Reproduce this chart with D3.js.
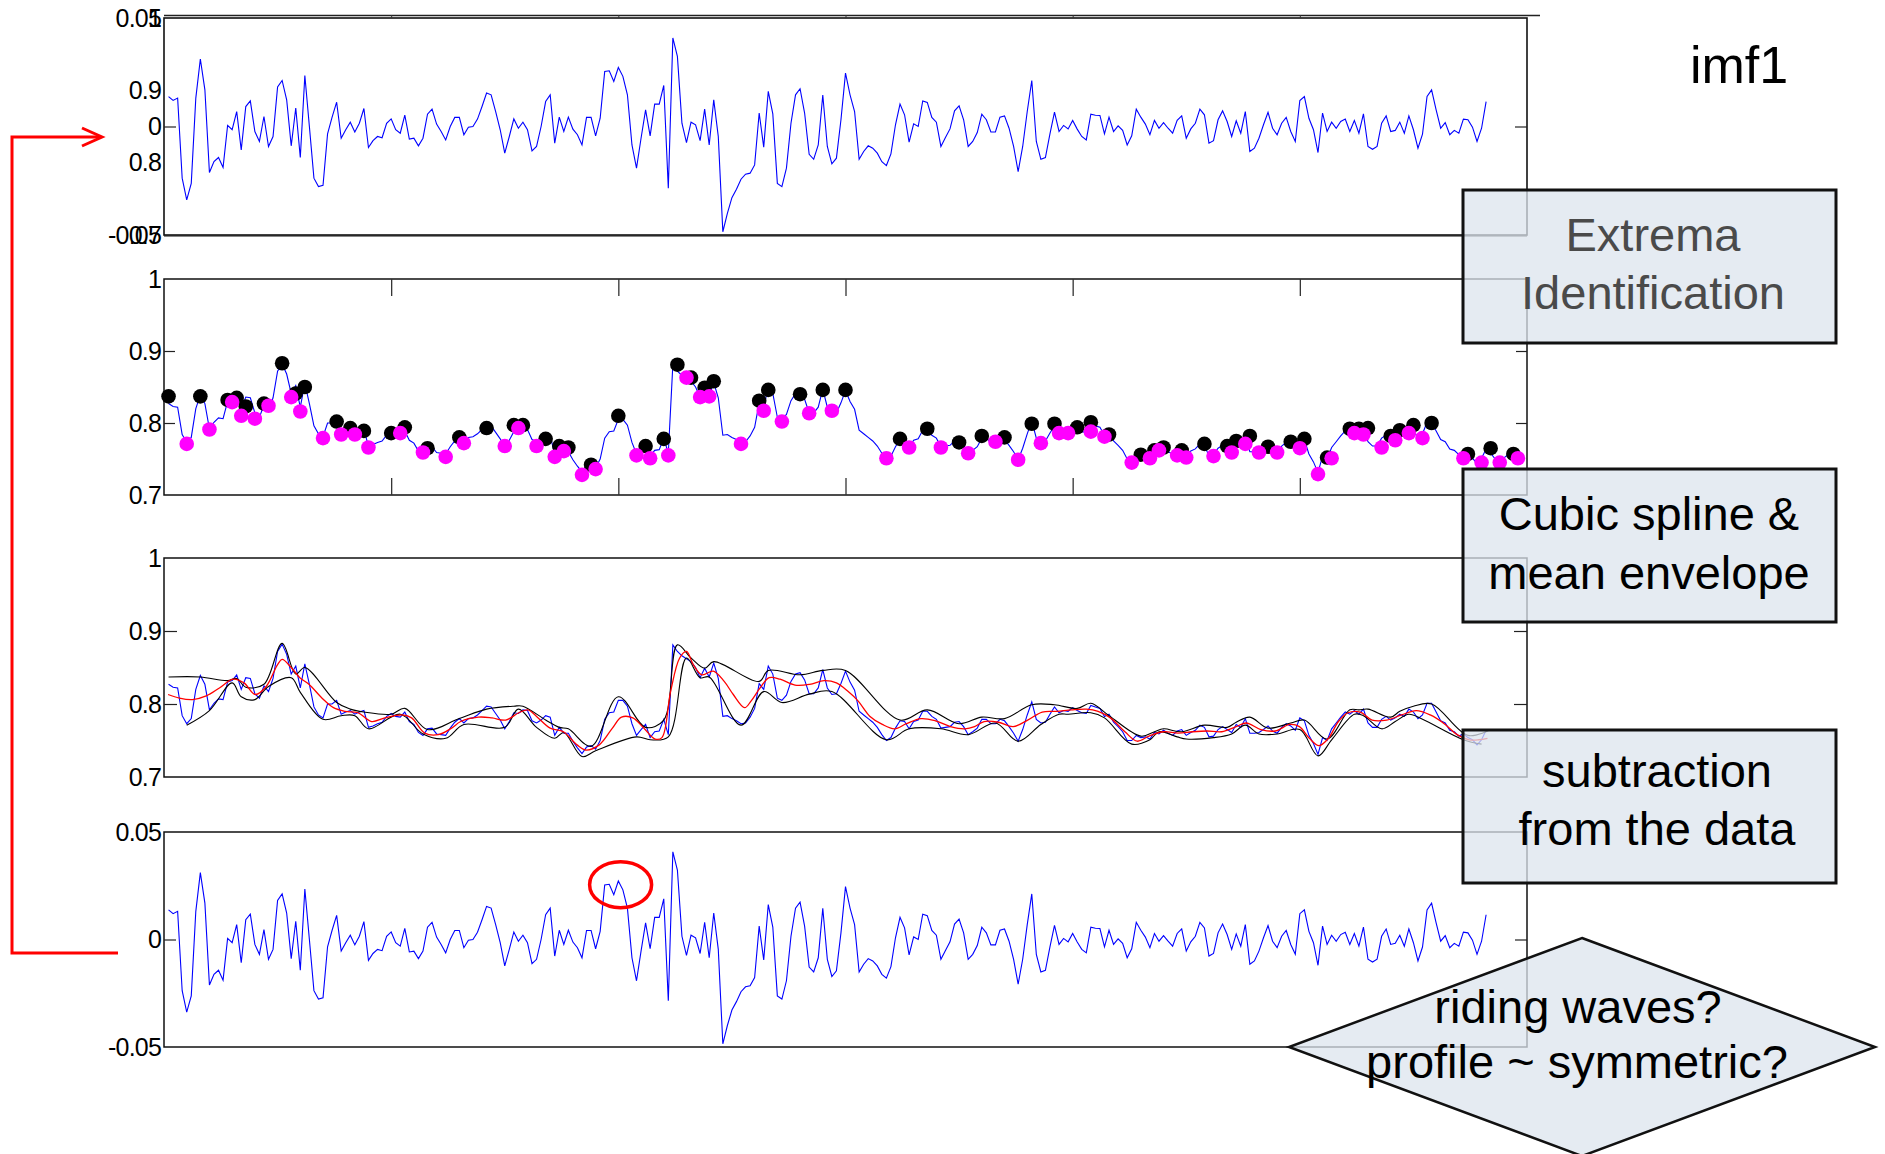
<!DOCTYPE html>
<html>
<head>
<meta charset="utf-8">
<script src="https://cdn.jsdelivr.net/npm/d3@7"></script>
<style>
  html, body { margin: 0; padding: 0; background: #fff; }
  svg { display: block; font-family: "Liberation Sans", Arial, Helvetica, sans-serif; }
</style>
</head>
<body>
<svg id="chart" width="1885" height="1154"></svg>
<script>
// ---- data -------------------------------------------------------------
const xTickValues = [0, 50, 100, 150, 200, 250, 300];
const levelTicks = [0.7, 0.8, 0.9, 1];
const imfTicks = [-0.05, 0, 0.05];

// first intrinsic mode function candidate, samples 1..291
const imf = [
  0.0138, 0.0120, 0.0131, -0.0238, -0.0338, -0.0262, 0.0131, 0.0311, 0.0169, -0.0212,
  -0.0162, -0.0143, -0.0189, 0.0005, -0.0015, 0.0069, -0.0108, 0.0092, 0.0118, -0.0023,
  -0.0069, 0.0046, -0.0092, -0.0046, 0.0182, 0.0212, 0.0123, -0.0089, 0.0085, -0.0143,
  0.0235, 0.0000, -0.0238, -0.0277, -0.0271, -0.0034, 0.0043, 0.0112, -0.0054, -0.0015,
  0.0020, -0.0025, 0.0015, 0.0083, -0.0097, -0.0065, -0.0046, -0.0052, 0.0015, 0.0035,
  -0.0015, -0.0031, 0.0052, -0.0058, -0.0054, -0.0089, -0.0054, 0.0057, 0.0080, 0.0011,
  -0.0023, -0.0062, 0.0000, 0.0042, 0.0042, -0.0038, -0.0003, 0.0000, 0.0034, 0.0092,
  0.0154, 0.0146, 0.0069, -0.0015, -0.0123, -0.0046, 0.0035, -0.0008, 0.0020, -0.0015,
  -0.0112, -0.0092, 0.0000, 0.0115, 0.0146, -0.0077, 0.0043, -0.0023, 0.0043, -0.0012,
  -0.0038, -0.0085, 0.0042, 0.0042, -0.0043, 0.0038, 0.0254, 0.0257, 0.0208, 0.0272,
  0.0231, 0.0146, -0.0085, -0.0192, -0.0054, 0.0077, -0.0043, 0.0103, 0.0103, 0.0189,
  -0.0285, 0.0408, 0.0323, 0.0015, -0.0074, 0.0020, 0.0008, -0.0065, 0.0080, -0.0085,
  0.0123, -0.0046, -0.0485, -0.0400, -0.0328, -0.0289, -0.0243, -0.0220, -0.0215, -0.0177,
  0.0062, -0.0095, 0.0162, 0.0058, -0.0262, -0.0277, -0.0192, 0.0015, 0.0146, 0.0174,
  0.0062, -0.0128, -0.0151, -0.0085, 0.0145, -0.0092, -0.0172, -0.0146, 0.0031, 0.0246,
  0.0146, 0.0069, -0.0151, -0.0115, -0.0089, -0.0100, -0.0123, -0.0162, -0.0180, -0.0126,
  0.0008, 0.0103, 0.0054, -0.0072, 0.0012, 0.0000, 0.0118, 0.0111, 0.0042, 0.0020,
  -0.0092, -0.0051, -0.0011, 0.0072, 0.0095, 0.0031, -0.0092, -0.0069, -0.0028, 0.0057,
  0.0031, -0.0025, -0.0025, 0.0043, 0.0049, -0.0008, -0.0092, -0.0208, -0.0092, 0.0069,
  0.0212, -0.0069, -0.0151, -0.0143, -0.0034, 0.0066, -0.0023, 0.0005, -0.0011, 0.0028,
  -0.0012, -0.0046, -0.0062, 0.0057, 0.0052, 0.0051, -0.0034, 0.0043, -0.0023, 0.0003,
  -0.0018, -0.0085, -0.0043, 0.0080, 0.0043, 0.0011, -0.0038, 0.0028, -0.0008, 0.0018,
  -0.0008, -0.0031, 0.0028, 0.0049, -0.0054, -0.0011, 0.0015, 0.0080, 0.0054, -0.0077,
  -0.0065, 0.0031, 0.0072, 0.0023, -0.0046, 0.0026, -0.0031, 0.0069, -0.0115, -0.0100,
  -0.0054, 0.0008, 0.0065, -0.0008, -0.0038, 0.0015, 0.0042, -0.0023, -0.0069, 0.0120,
  0.0138, 0.0038, -0.0015, -0.0120, 0.0062, -0.0023, 0.0020, -0.0008, 0.0023, 0.0034,
  -0.0023, 0.0028, -0.0031, 0.0058, -0.0092, -0.0105, -0.0092, 0.0015, 0.0049, -0.0023,
  -0.0018, 0.0020, -0.0031, 0.0049, -0.0015, -0.0100, -0.0035, 0.0138, 0.0169, 0.0077,
  -0.0008, 0.0018, -0.0038, -0.0018, -0.0031, 0.0034, 0.0031, -0.0003, -0.0069, -0.0008,
  0.0115
];

// raw record, samples 1..299
const signal = [
  0.827, 0.823, 0.822, 0.784, 0.773, 0.780, 0.820, 0.839, 0.827, 0.792,
  0.801, 0.807, 0.806, 0.830, 0.832, 0.840, 0.820, 0.836, 0.835, 0.814,
  0.808, 0.825, 0.817, 0.835, 0.872, 0.882, 0.868, 0.841, 0.852, 0.822,
  0.855, 0.827, 0.796, 0.785, 0.781, 0.800, 0.800, 0.805, 0.786, 0.789,
  0.791, 0.786, 0.789, 0.791, 0.768, 0.770, 0.773, 0.775, 0.783, 0.787,
  0.783, 0.782, 0.789, 0.776, 0.772, 0.761, 0.757, 0.766, 0.767, 0.759,
  0.758, 0.757, 0.767, 0.775, 0.780, 0.774, 0.780, 0.781, 0.785, 0.791,
  0.797, 0.796, 0.787, 0.778, 0.766, 0.776, 0.788, 0.787, 0.792, 0.791,
  0.777, 0.774, 0.778, 0.784, 0.782, 0.757, 0.768, 0.760, 0.760, 0.749,
  0.740, 0.732, 0.741, 0.743, 0.738, 0.750, 0.779, 0.788, 0.789, 0.805,
  0.805, 0.797, 0.773, 0.757, 0.765, 0.772, 0.754, 0.762, 0.763, 0.779,
  0.758, 0.881, 0.872, 0.866, 0.862, 0.858, 0.850, 0.836, 0.849, 0.837,
  0.856, 0.835, 0.783, 0.784, 0.780, 0.777, 0.773, 0.774, 0.782, 0.794,
  0.828, 0.820, 0.852, 0.841, 0.808, 0.805, 0.812, 0.831, 0.841, 0.843,
  0.833, 0.814, 0.814, 0.822, 0.847, 0.822, 0.813, 0.814, 0.828, 0.845,
  0.830, 0.819, 0.790, 0.785, 0.780, 0.775, 0.768, 0.758, 0.750, 0.754,
  0.767, 0.777, 0.776, 0.766, 0.776, 0.778, 0.790, 0.790, 0.783, 0.779,
  0.767, 0.768, 0.769, 0.775, 0.776, 0.769, 0.758, 0.762, 0.767, 0.779,
  0.779, 0.773, 0.773, 0.779, 0.777, 0.769, 0.760, 0.749, 0.765, 0.785,
  0.803, 0.779, 0.774, 0.775, 0.786, 0.796, 0.788, 0.791, 0.790, 0.795,
  0.791, 0.788, 0.787, 0.798, 0.796, 0.794, 0.783, 0.786, 0.775, 0.769,
  0.762, 0.750, 0.750, 0.757, 0.754, 0.755, 0.752, 0.761, 0.759, 0.764,
  0.760, 0.757, 0.763, 0.765, 0.757, 0.761, 0.764, 0.771, 0.768, 0.755,
  0.756, 0.765, 0.769, 0.765, 0.761, 0.772, 0.768, 0.780, 0.760, 0.760,
  0.761, 0.765, 0.770, 0.763, 0.760, 0.768, 0.773, 0.770, 0.764, 0.781,
  0.777, 0.757, 0.746, 0.731, 0.754, 0.750, 0.766, 0.774, 0.782, 0.789,
  0.786, 0.791, 0.786, 0.793, 0.774, 0.768, 0.768, 0.779, 0.783, 0.778,
  0.781, 0.786, 0.783, 0.793, 0.789, 0.780, 0.785, 0.801, 0.801, 0.789,
  0.777, 0.774, 0.764, 0.762, 0.756, 0.759, 0.754, 0.751, 0.744, 0.751,
  0.764, 0.758, 0.750, 0.746, 0.752, 0.757, 0.752, 0.750, 0.755
];
// number of samples carried into the sifting panels
const siftLength = 291;

// mean of the upper and lower envelopes
const meanIdx = [
  0.9, 3.4, 6.3, 9.3, 12.2, 15.2, 17.6, 20.1, 22.5, 25, 26, 28, 29.9, 31.9, 34.8,
  37.3, 39.8, 42.7, 45.7, 48.6, 52.5, 54.5, 57.4, 60.4, 63.3, 65.3, 69.2, 72.2, 75.2,
  78.1, 80.1, 82, 85, 87.9, 90.9, 92.8, 95.8, 98.7, 100.7, 103.2, 105.6, 108.1, 109.6,
  111.5, 113.5, 115, 116.5, 118.4, 120.9, 123.3, 125.3, 127.8, 129.2, 131.2, 133.2,
  135.6, 138.9, 142.1, 145.3, 148, 150.6, 152.8, 155.4, 158.1, 160.8, 163.4, 166.6,
  169.8, 173.1, 176.3, 178.4, 180.5, 183.7, 186.9, 190.1, 193.3, 196.5, 199.7, 203,
  205.6, 208.3, 211.5, 214.2, 216.8, 220, 223.2, 226.4, 229.6, 232.8, 236, 238.2,
  241.4, 244.6, 247.8, 249.9, 252.1, 254.2, 256.3, 258.5, 260.6, 263.3, 265.9, 269.1,
  272.4, 275.6, 278.7, 282, 284.6, 287.3, 289.4, 291.3
];
const meanVal = [
  0.813, 0.808, 0.806, 0.811, 0.822, 0.834, 0.829, 0.813, 0.824, 0.854, 0.861, 0.850, 0.836, 0.827, 0.808,
  0.795, 0.790, 0.788, 0.776, 0.781, 0.785, 0.781, 0.760, 0.758, 0.767, 0.776, 0.782, 0.781, 0.778,
  0.788, 0.792, 0.783, 0.767, 0.762, 0.744, 0.737, 0.744, 0.767, 0.782, 0.781, 0.767, 0.752, 0.754,
  0.817, 0.863, 0.872, 0.854, 0.840, 0.845, 0.831, 0.813, 0.795, 0.804, 0.822, 0.836,
  0.834, 0.826, 0.827, 0.832, 0.829, 0.817, 0.804, 0.783, 0.772, 0.766, 0.773, 0.780,
  0.777, 0.769, 0.766, 0.769, 0.776, 0.775, 0.769, 0.778, 0.789, 0.790, 0.792, 0.793,
  0.790, 0.781, 0.762, 0.749, 0.756, 0.762, 0.760, 0.762, 0.763, 0.762, 0.769, 0.774,
  0.765, 0.763, 0.772, 0.769, 0.753, 0.743, 0.753, 0.776, 0.788, 0.789, 0.778, 0.778,
  0.785, 0.791, 0.785, 0.772, 0.758, 0.751, 0.751, 0.753
];

// local maxima of the record
const maxIdx = [
  1, 8, 14, 16, 18, 22, 26, 29, 31, 38, 41, 44, 50, 53, 58, 65, 71,
  77, 79, 84, 87, 89, 94, 100, 106, 110, 113, 116, 119, 121, 131, 133, 140, 145, 150,
  162, 168, 175, 180, 185, 191, 196, 201, 204, 208, 215, 218, 220, 224,
  229, 234, 236, 239, 243, 248, 251, 256, 261, 263, 265, 270, 272, 275, 279, 287, 292, 297
];
const maxVal = [
  0.837, 0.837, 0.832, 0.835, 0.823, 0.827, 0.883, 0.841, 0.850, 0.802, 0.793, 0.789, 0.786, 0.794, 0.765, 0.780, 0.793,
  0.797, 0.797, 0.778, 0.768, 0.766, 0.742, 0.810, 0.768, 0.778, 0.881, 0.863, 0.849, 0.858, 0.831, 0.846, 0.840, 0.846, 0.846,
  0.778, 0.792, 0.773, 0.782, 0.780, 0.799, 0.799, 0.794, 0.801, 0.784, 0.756, 0.762, 0.766, 0.762,
  0.771, 0.768, 0.775, 0.782, 0.767, 0.774, 0.778, 0.752, 0.792, 0.792, 0.793, 0.782, 0.790, 0.797, 0.800, 0.757, 0.765, 0.757
];

// local minima of the record
const minIdx = [
  5, 10, 15, 17, 20, 23, 28, 30, 35, 39, 42, 45, 52, 57, 62, 66, 75,
  78, 82, 86, 88, 92, 95, 104, 107, 111, 115, 118, 120, 127, 132, 136, 142, 147,
  159, 164, 171, 177, 183, 188, 193, 197, 199, 204, 207, 213, 217, 219, 223, 225,
  231, 235, 238, 241, 245, 250, 254, 257, 262, 264, 268, 271, 274, 277, 286, 290, 294, 298
];
const minVal = [
  0.771, 0.791, 0.829, 0.810, 0.806, 0.824, 0.836, 0.816, 0.779, 0.784, 0.784, 0.766, 0.786, 0.759, 0.753, 0.772, 0.768,
  0.793, 0.768, 0.753, 0.761, 0.728, 0.736, 0.755, 0.751, 0.755, 0.863, 0.836, 0.837, 0.771, 0.817, 0.802, 0.8135, 0.817,
  0.751, 0.766, 0.766, 0.758, 0.774, 0.749, 0.772, 0.786, 0.786, 0.788, 0.781, 0.745, 0.751, 0.762, 0.755, 0.752,
  0.754, 0.759, 0.771, 0.759, 0.759, 0.765, 0.729, 0.751, 0.786, 0.784, 0.766, 0.776, 0.786, 0.779, 0.751, 0.745, 0.745, 0.751
];

const modeName = "imf1";
const stepLabels = [
  ["Extrema", "Identification"],
  ["Cubic spline &", "mean envelope"],
  ["subtraction", "from the data"]
];
const questionLabels = ["riding waves?", "profile ~ symmetric?"];

// ---- layout ---------------------------------------------------------
const svg = d3.select("#chart");
const W = 1885, H = 1154;
const left = 164, right = 1527;
const x = d3.scaleLinear().domain([0, 300]).range([left, right]);

const panels = [
  { top: 18,  bottom: 235 },
  { top: 279, bottom: 495 },
  { top: 558, bottom: 777 },
  { top: 832, bottom: 1047 }
];
const yLevel = p => d3.scaleLinear().domain([0.7, 1]).range([p.bottom, p.top]);
const yMode  = p => d3.scaleLinear().domain([-0.05, 0.05]).range([p.bottom, p.top]);

const fmt = d => String(+d.toFixed(2));
const BLUE = "#0000ff", RED = "#ff0000", MAGENTA = "#ff00ff";
const TICK_FONT = 25;

const imfPts = imf.map((v, i) => [i + 1, v]);
const sigPts = signal.map((v, i) => [i + 1, v]);
const meanPts = meanIdx.map((k, i) => [k, meanVal[i]]);
const maxPts = maxIdx.map((k, i) => [k, maxVal[i]]);
const minPts = minIdx.map((k, i) => [k, minVal[i]]);

function frame(p, w) {
  svg.append("rect")
    .attr("x", left).attr("y", p.top)
    .attr("width", right - left).attr("height", p.bottom - p.top)
    .attr("fill", "none").attr("stroke", "#111").attr("stroke-width", w || 1.5);
}

function yLabels(scale, values, tickLen, withRight) {
  const g = svg.append("g").attr("transform", `translate(${left},0)`)
    .call(d3.axisLeft(scale).tickValues(values).tickFormat(fmt)
      .tickSizeInner(-tickLen).tickSizeOuter(0).tickPadding(3));
  g.select(".domain").remove();
  g.selectAll(".tick line").attr("stroke", "#222").attr("stroke-width", 1.2);
  g.selectAll(".tick text").attr("font-size", TICK_FONT).attr("fill", "#000")
    .attr("font-family", "'Liberation Sans', Arial, sans-serif")
    .attr("letter-spacing", "-0.8");
  g.selectAll(".tick").filter(d => d === scale.domain()[0] || d === scale.domain()[1])
    .select("line").remove();
  if (withRight) {
    const r = svg.append("g").attr("transform", `translate(${right},0)`)
      .call(d3.axisRight(scale).tickValues(values).tickFormat("")
        .tickSizeInner(-tickLen).tickSizeOuter(0));
    r.select(".domain").remove();
    r.selectAll(".tick line").attr("stroke", "#222").attr("stroke-width", 1.2);
    r.selectAll(".tick").filter(d => d === scale.domain()[0] || d === scale.domain()[1]).remove();
  }
}

// x labels of a panel, cut off just below the frame; the last ones sit behind the step boxes
function xLabelsClipped(p, pad, visible, id, values) {
  svg.append("clipPath").attr("id", id).append("rect")
    .attr("x", 0).attr("y", p.bottom + 1).attr("width", W).attr("height", visible);
  const g = svg.append("g").attr("transform", `translate(0,${p.bottom})`)
    .attr("clip-path", `url(#${id})`)
    .call(d3.axisBottom(x).tickValues(values).tickFormat(d3.format("d"))
      .tickSize(0).tickPadding(pad));
  g.select(".domain").remove();
  g.selectAll(".tick text").attr("font-size", TICK_FONT).attr("fill", "#000")
    .attr("font-family", "'Liberation Sans', Arial, sans-serif");
}

function xInnerTicks(p, len) {
  const inner = xTickValues.slice(1, -1);
  const top = svg.append("g").attr("transform", `translate(0,${p.top})`)
    .call(d3.axisTop(x).tickValues(inner).tickFormat("").tickSizeInner(-len).tickSizeOuter(0));
  const bot = svg.append("g").attr("transform", `translate(0,${p.bottom})`)
    .call(d3.axisBottom(x).tickValues(inner).tickFormat("").tickSizeInner(-len).tickSizeOuter(0));
  [top, bot].forEach(g => {
    g.select(".domain").remove();
    g.selectAll(".tick line").attr("stroke", "#333").attr("stroke-width", 1.3);
  });
}

const line = (sx, sy, curve) => d3.line().x(d => sx(d[0])).y(d => sy(d[1])).curve(curve || d3.curveLinear);

// ---- panel 1 : candidate mode -----------------------------------------
{
  const p = panels[0];
  const yA = yLevel(p), yB = yMode(p);
  svg.append("path").datum(imfPts)
    .attr("d", line(x, yB)).attr("fill", "none").attr("stroke", BLUE).attr("stroke-width", 1.1);
  frame(p, 1.6);
  svg.append("line").attr("x1", left).attr("x2", 1540).attr("y1", 15.5).attr("y2", 15.5)
    .attr("stroke", "#222").attr("stroke-width", 1.4);
  svg.append("line").attr("x1", left).attr("x2", right).attr("y1", p.bottom + 1).attr("y2", p.bottom + 1)
    .attr("stroke", "#111").attr("stroke-width", 1.2);
  yLabels(yA, levelTicks, 0, false);
  yLabels(yB, imfTicks, 12, true);
  // small upward marks on the top border
  svg.append("g").attr("transform", `translate(0,${p.top})`)
    .call(d3.axisTop(x).tickValues(xTickValues.slice(1, -1)).tickFormat("").tickSizeInner(3).tickSizeOuter(0))
    .call(g => g.select(".domain").remove())
    .selectAll("line").attr("stroke", "#333");
  xLabelsClipped(p, 8, 11, "clipX1", xTickValues);
}

// ---- panel 2 : record with extrema --------------------------------------
{
  const p = panels[1];
  const y = yLevel(p);
  frame(p, 1.5);
  xInnerTicks(p, 17);
  yLabels(y, levelTicks, 11, true);
  svg.append("path").datum(sigPts)
    .attr("d", line(x, y)).attr("fill", "none").attr("stroke", BLUE).attr("stroke-width", 1.1);
  svg.append("g").selectAll("circle").data(maxPts).join("circle")
    .attr("cx", d => x(d[0])).attr("cy", d => y(d[1])).attr("r", 7.3).attr("fill", "#000");
  svg.append("g").selectAll("circle").data(minPts).join("circle")
    .attr("cx", d => x(d[0])).attr("cy", d => y(d[1])).attr("r", 7.3).attr("fill", MAGENTA);
  xLabelsClipped(p, 11, 13, "clipX2", xTickValues.slice(0, -1));
}

// ---- panel 3 : envelopes and their mean ---------------------------------
{
  const p = panels[2];
  const y = yLevel(p);
  frame(p, 1.5);
  yLabels(y, levelTicks, 13, true);
  svg.append("path").datum(sigPts.filter(d => d[0] <= siftLength))
    .attr("d", line(x, y)).attr("fill", "none").attr("stroke", BLUE).attr("stroke-width", 1.1);
  const env = d3.curveCatmullRom.alpha(0.5);
  [maxPts, minPts].forEach(pts => {
    svg.append("path").datum(pts.filter(d => d[0] <= siftLength + 1))
      .attr("d", line(x, y, env)).attr("fill", "none").attr("stroke", "#000").attr("stroke-width", 1.1);
  });
  svg.append("path").datum(meanPts)
    .attr("d", line(x, y, d3.curveCatmullRom.alpha(0.5))).attr("fill", "none")
    .attr("stroke", RED).attr("stroke-width", 1.3);
}

// ---- panel 4 : record minus mean envelope -------------------------------
{
  const p = panels[3];
  const y = yMode(p);
  svg.append("path").datum(imfPts)
    .attr("d", line(x, y)).attr("fill", "none").attr("stroke", BLUE).attr("stroke-width", 1.1);
  frame(p, 1.5);
  yLabels(y, imfTicks, 12, true);
  // highlighted riding wave
  svg.append("ellipse").attr("cx", x(100.5)).attr("cy", y(0.0255))
    .attr("rx", 31).attr("ry", 23).attr("fill", "none").attr("stroke", RED).attr("stroke-width", 3.5);
}

// ---- flow annotations ---------------------------------------------------
const boxFill = "#dce4ee";
const stepBoxes = [
  { x: 1463, y: 190, w: 373, h: 153, cx: 1653, base: [251, 309], color: "#4a4a4a" },
  { x: 1463, y: 469, w: 373, h: 153, cx: 1649, base: [530, 589], color: "#000" },
  { x: 1463, y: 730, w: 373, h: 153, cx: 1657, base: [787, 845], color: "#000" }
];
stepBoxes.forEach((b, i) => {
  svg.append("rect").attr("x", b.x).attr("y", b.y).attr("width", b.w).attr("height", b.h)
    .attr("fill", boxFill).attr("fill-opacity", 0.75)
    .attr("stroke", "#111").attr("stroke-width", 3);
  stepLabels[i].forEach((t, j) => {
    svg.append("text").attr("x", b.cx).attr("y", b.base[j]).attr("text-anchor", "middle")
      .attr("font-size", 47).attr("fill", b.color).text(t);
  });
});

// decision diamond
{
  const cx = 1582, cy = 1047, hw = 293, hh = 109;
  svg.append("path")
    .attr("d", `M${cx},${cy - hh}L${cx + hw},${cy}L${cx},${cy + hh}L${cx - hw},${cy}Z`)
    .attr("fill", boxFill).attr("fill-opacity", 0.75).attr("stroke", "#111").attr("stroke-width", 2.5);
  [[1578, 1023], [1577, 1078]].forEach((pos, j) => {
    svg.append("text").attr("x", pos[0]).attr("y", pos[1]).attr("text-anchor", "middle")
      .attr("font-size", 47).attr("fill", "#000").text(questionLabels[j]);
  });
}

svg.append("text").attr("x", 1690).attr("y", 83).attr("font-size", 52).attr("fill", "#000").text(modeName);

// feedback arrow back to the top
svg.append("path").attr("d", "M118,953H12V137H100")
  .attr("fill", "none").attr("stroke", RED).attr("stroke-width", 3);
svg.append("path").attr("d", "M82,128L102,137L82,146")
  .attr("fill", "none").attr("stroke", RED).attr("stroke-width", 3);
</script>
</body>
</html>
